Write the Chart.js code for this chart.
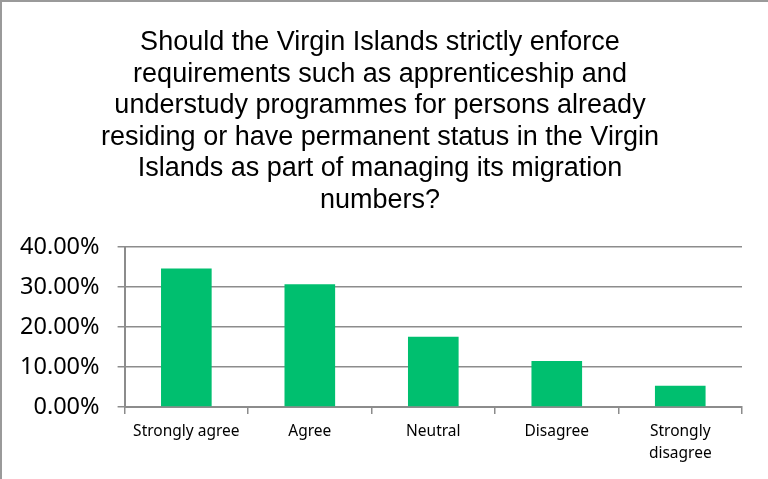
<!DOCTYPE html>
<html>
<head>
<meta charset="utf-8">
<script src="https://cdn.jsdelivr.net/npm/chart.js@4/dist/chart.umd.min.js"></script>
<style>
    html, body { margin: 0; padding: 0; background: #fff; }
    #wrap { position: relative; width: 768px; height: 479px; box-sizing: border-box; border-left: 2px solid #9a9a9a; border-top: 2px solid #9a9a9a; }
</style>
</head>
<body>
<div id="wrap"><canvas id="chart" width="766" height="477"></canvas></div>
<script>
// Survey answers
const categories = ["Strongly agree", "Agree", "Neutral", "Disagree", ["Strongly", "disagree"]];
const shares = [34.65, 30.7, 17.6, 11.5, 5.3];
const yTicks = [0, 10, 20, 30, 40];

const titleLines = [
    "Should the Virgin Islands strictly enforce",
    "requirements such as apprenticeship and",
    "understudy programmes for persons already",
    "residing or have permanent status in the Virgin",
    "Islands as part of managing its migration",
    "numbers?"
];

const axisGray = "#8c8c8c";

// the built-in title centres over the whole box incl. the y labels,
// this one sits a bit further right, over the middle of the card
const centredTitle = {
    id: "centredTitle",
    afterDraw(chart) {
        const c = chart.ctx;
        c.save();
        c.font = "27px 'Liberation Sans', Arial, sans-serif";
        c.fillStyle = "#000";
        c.textAlign = "center";
        c.textBaseline = "alphabetic";
        titleLines.forEach((line, i) => c.fillText(line, 378, 48 + i * 31.6));
        c.restore();
    }
};

const ctx = document.getElementById("chart").getContext("2d");
new Chart(ctx, {
    type: "bar",
    data: {
        labels: categories,
        datasets: [{
            data: shares,
            backgroundColor: "#00bf6f",
            borderWidth: 0,
            categoryPercentage: 1,
            barPercentage: 0.41
        }]
    },
    plugins: [centredTitle],
    options: {
        responsive: false,
        animation: false,
        layout: { padding: { left: 0, right: 26, top: 245, bottom: 8 } },
        plugins: {
            legend: { display: false },
            tooltip: { enabled: false },
            title: { display: false }
        },
        scales: {
            x: {
                offset: true,
                grid: {
                    offset: true,
                    drawOnChartArea: false,
                    drawTicks: true,
                    tickLength: 7,
                    color: axisGray,
                    lineWidth: 1.5
                },
                border: { color: axisGray, width: 2 },
                ticks: {
                    color: "#000",
                    padding: 6,
                    maxRotation: 0,
                    autoSkip: false,
                    font: { family: "'Noto Sans', sans-serif", size: 15.5, lineHeight: 1.45 }
                }
            },
            y: {
                min: 0,
                max: 40,
                afterBuildTicks: axis => { axis.ticks = yTicks.map(v => ({ value: v })); },
                grid: {
                    color: axisGray,
                    lineWidth: 1.5,
                    drawTicks: true,
                    tickLength: 7
                },
                border: { color: axisGray, width: 2 },
                ticks: {
                    color: "#000",
                    padding: 18,
                    font: { family: "'Noto Sans', sans-serif", size: 23.5 },
                    callback: v => v.toFixed(2) + "%"
                }
            }
        }
    }
});
</script>
</body>
</html>
